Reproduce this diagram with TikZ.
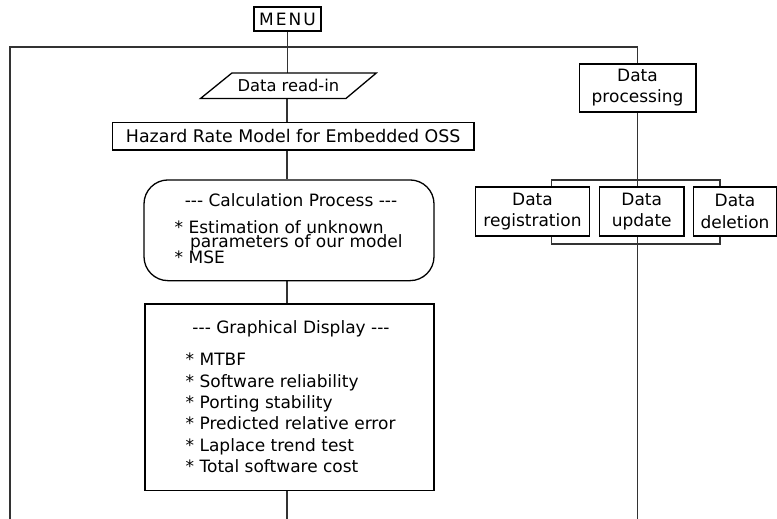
\documentclass[tikz,border=0pt]{standalone}
\usepackage{fontspec}
\setmainfont{DejaVu Sans}
\usetikzlibrary{backgrounds}

\begin{document}
\begin{tikzpicture}[x=1pt,y=-1pt,
  box/.style={draw=black, line width=1.3pt, fill=white, inner sep=0pt, align=center,
              font=\fontsize{17}{21}\selectfont},
  dbox/.style={box, font=\fontsize{17}{21.5}\selectfont},
  ghost/.style={draw=none, inner sep=0pt, font=\fontsize{17}{21}\selectfont},
  wire/.style={draw=black!80, line width=1.1pt},
  ctxt/.style={inner sep=0pt, anchor=base, font=\fontsize{17}{21}\selectfont},
  ltxt/.style={inner sep=0pt, anchor=base west, font=\fontsize{17}{21}\selectfont}]

\useasboundingbox (0,0) rectangle (777,519);

% ---- main column -------------------------------------------------------
\node[box, minimum width=67pt, minimum height=24pt] (menu) at (287.5,19)
  {M\kern2pt E\kern2pt N\kern2pt U};

\node[ghost, minimum width=175.3pt, minimum height=25pt] (readin) at (288.35,85.8) {};
\draw[line width=1.3pt, fill=white]
  (readin.south west) -- ([xshift=-30.3pt]readin.south east) -- (readin.north east)
  -- ([xshift=31.3pt]readin.north west) -- cycle;
\node[ctxt, font=\fontsize{16.3}{20}\selectfont] (readintxt) at (288.35,91.7) {Data read-in};

\node[box, minimum width=361.7pt, minimum height=27.7pt, font=\fontsize{17.4}{21}\selectfont]
  (hazard) at (293.2,136.2) {Hazard Rate Model for Embedded OSS};

\node[box, rounded corners=24pt, minimum width=290pt, minimum height=100.7pt] (calc) at (289,230.3) {};
\node[ctxt] (calct) at (291,206) {-{}-{}- Calculation Process -{}-{}-};
\node[ltxt] (c1) at (174.5,233) {* Estimation of unknown};
\node[ltxt] (c2) at (190,247) {parameters of our model};
\node[ltxt] (c3) at (174.5,263) {* MSE};

\node[box, minimum width=289pt, minimum height=186.7pt] (graph) at (289.5,397.3) {};
\node[ctxt] (grapht) at (291,333) {-{}-{}- Graphical Display -{}-{}-};
\foreach \t [count=\i from 0] in {MTBF, Software reliability, Porting stability,
    Predicted relative error, Laplace trend test, Total software cost}
  \node[ltxt] (g\i) at (185.5,365.7+21.4*\i) {* \t};

% ---- data processing column --------------------------------------------
\node[box, minimum width=116.7pt, minimum height=48pt] (dp) at (637.5,88)
  {Data\\processing};

\node[dbox, minimum width=113.6pt, minimum height=49pt] (reg) at (532.5,211.5)
  {Data\\registration};
\node[dbox, minimum width=84.7pt, minimum height=49pt] (upd) at (641.7,211.5)
  {Data\\update};
\node[dbox, minimum width=83.4pt, minimum height=49pt] (del) at (735,211.5)
  {Data\\deletion};

% ---- connectors ----------------------------------------------------------
\coordinate (tl) at (10,47);
\coordinate (tr) at (637.5,47);
\coordinate (bl) at (10,519);
\coordinate (br) at (637.5,519);
\coordinate (bc) at (287,519);
\coordinate (brt) at (637.5,180);
\coordinate (brb) at (637.5,244);

\begin{scope}[on background layer]
  \draw[wire] (menu.south) -- (menu.south |- readin.north);
  \draw[wire] (bl) -- (tl) -- (tr) -- (dp.north);
  \draw[wire] (dp.south) -- (brt) -- (brb) -- (br);
  \draw[wire] (readin.south -| bc) -- (hazard.north -| bc);
  \draw[wire] (hazard.south -| bc) -- (calc.north -| bc);
  \draw[wire] (calc.south -| bc) -- (graph.north -| bc);
  \draw[wire] (graph.south -| bc) -- (bc);
  \draw[wire] ([xshift=19.2pt]reg.north) |- (brt) -| ([xshift=-15pt]del.north);
  \draw[wire] ([xshift=19.2pt]reg.south) |- (brb) -| ([xshift=-15pt]del.south);
\end{scope}
\end{tikzpicture}
\end{document}
